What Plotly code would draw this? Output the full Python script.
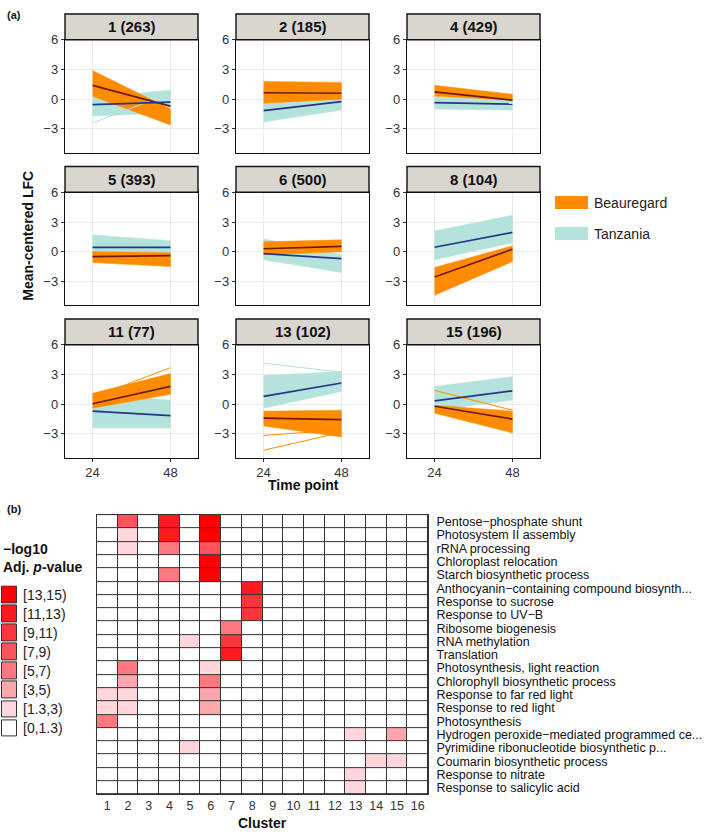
import pandas as pd
import plotly.graph_objects as go

W, H = 709, 835
FONT = "Liberation Sans, Arial, sans-serif"

# ---------------- (a) expression trajectories per cluster ----------------
clusters = ["1 (263)", "2 (185)", "4 (429)", "5 (393)", "6 (500)",
            "8 (104)", "11 (77)", "13 (102)", "15 (196)"]
time_points = [24, 48]
genotypes = ["Beauregard", "Tanzania"]

# spread of the gene bundle (low/high) and cluster mean, at 24 h and 48 h
beau_lo24 = [0.3, -0.4, 0.3, -1.1, -0.3, -4.4, -0.4, -2.2, -0.9]
beau_hi24 = [2.9, 1.8, 1.4, 0.0, 1.0, -1.6, 1.1, -0.7, -0.1]
beau_lo48 = [-2.6, 0.0, -0.1, -1.5, 0.0, -1.0, 1.0, -3.3, -2.9]
beau_hi48 = [-1.0, 1.7, 0.5, -0.1, 1.2, 0.6, 3.1, -0.6, -0.7]
beau_mean24 = [1.4, 0.65, 0.75, -0.5, 0.3, -2.55, 0.05, -1.4, -0.2]
beau_mean48 = [-0.7, 0.6, -0.1, -0.4, 0.55, 0.25, 1.8, -1.55, -1.5]

tanz_lo24 = [-1.7, -2.3, -1.0, -0.7, -0.8, -0.8, -2.4, -0.4, -0.6]
tanz_hi24 = [0.2, -0.4, 0.2, 1.7, 1.3, 2.1, 1.1, 2.9, 1.8]
tanz_lo48 = [-1.4, -1.1, -1.1, -0.6, -2.1, 0.9, -2.4, 1.3, 0.4]
tanz_hi48 = [0.9, 0.4, 0.0, 1.1, -0.3, 3.7, 0.4, 3.3, 2.8]
tanz_mean24 = [-0.55, -1.15, -0.35, 0.45, -0.2, 0.45, -0.7, 0.8, 0.35]
tanz_mean48 = [-0.3, -0.25, -0.5, 0.45, -0.7, 1.95, -1.15, 2.15, 1.35]

# single genes sticking out of the bundles
stray_cluster = [0, 6, 7, 7, 7, 8]
stray_group = ["Tanzania", "Beauregard", "Tanzania", "Beauregard", "Beauregard", "Beauregard"]
stray_24 = [-2.4, 0.7, 4.15, -3.15, -4.65, 1.4]
stray_48 = [0.6, 3.7, 3.25, -2.6, -2.85, -0.6]

# ---------------- (b) GO enrichment heatmap ----------------
terms = [
    "Pentose−phosphate shunt", "Photosystem II assembly", "rRNA processing",
    "Chloroplast relocation", "Starch biosynthetic process",
    "Anthocyanin−containing compound biosynth...", "Response to sucrose",
    "Response to UV−B", "Ribosome biogenesis", "RNA methylation", "Translation",
    "Photosynthesis, light reaction", "Chlorophyll biosynthetic process",
    "Response to far red light", "Response to red light", "Photosynthesis",
    "Hydrogen peroxide−mediated programmed ce...",
    "Pyrimidine ribonucleotide biosynthetic p...",
    "Coumarin biosynthetic process", "Response to nitrate",
    "Response to salicylic acid",
]
cluster_ids = list(range(1, 17))

# enriched (term index, cluster, -log10 adj. p); all other cells < 1.3
hit_term = [0, 0, 0, 1, 1, 1, 2, 2, 2, 3, 4, 4, 5, 6, 7, 8, 9, 9, 10, 11, 11,
            12, 12, 13, 13, 13, 14, 14, 14, 15, 16, 16, 17, 18, 18, 19, 20]
hit_cluster = [2, 4, 6, 2, 4, 6, 2, 4, 6, 6, 4, 6, 8, 8, 8, 7, 5, 7, 7, 2, 6,
               2, 6, 1, 2, 6, 1, 2, 6, 1, 13, 15, 5, 14, 15, 13, 13]
hit_value = [8, 12, 14, 2, 12, 14, 2, 6, 8, 14, 6, 14, 12, 10, 10, 6, 2, 10, 12, 6, 2,
             4, 6, 2, 2, 4, 2, 2, 4, 6, 2, 4, 2, 2, 2, 2, 2]

bin_edges = [0, 1.3, 3, 5, 7, 9, 11, 13, 15]
bin_labels = ["[0,1.3)", "[1.3,3)", "[3,5)", "[5,7)", "[7,9)", "[9,11)", "[11,13)", "[13,15)"]
bin_colors = ["#FFFFFF", "#FFD6DB", "#FFA6AD", "#FF7880", "#FF535C", "#FF353D", "#FF1A20", "#FF0000"]

ORANGE = "#FF8C00"
TEAL = "#B3E3DA"
MEAN_COL = {"Beauregard": "#6E1A0E", "Tanzania": "#28348A"}
FILL_COL = {"Beauregard": ORANGE, "Tanzania": TEAL}

bands = {
    "Beauregard": (beau_lo24, beau_hi24, beau_lo48, beau_hi48, beau_mean24, beau_mean48),
    "Tanzania": (tanz_lo24, tanz_hi24, tanz_lo48, tanz_hi48, tanz_mean24, tanz_mean48),
}


def xd(a, b):
    return [a / W, b / W]


def yd(top, bottom):
    return [1 - bottom / H, 1 - top / H]


fig = go.Figure()
lay = {}
shapes, annos = [], []

col_px = [(65, 198), (236, 369), (407, 540)]
row_px = [(33, 147), (187, 301), (341, 455)]
STRIP = 26

for i, name in enumerate(clusters):
    r, c = divmod(i, 3)
    n = i + 1
    xa, ya = f"x{n}", f"y{n}"
    # teal under orange
    for g in ["Tanzania", "Beauregard"]:
        lo24, hi24, lo48, hi48, _, _ = bands[g]
        fig.add_trace(go.Scatter(
            x=time_points + time_points[::-1],
            y=[hi24[i], hi48[i], lo48[i], lo24[i]],
            fill="toself", fillcolor=FILL_COL[g], mode="lines",
            line=dict(width=0.5, color=FILL_COL[g]),
            xaxis=xa, yaxis=ya, showlegend=False, hoverinfo="skip"))
    for k in range(len(stray_cluster)):
        if stray_cluster[k] == i:
            fig.add_trace(go.Scatter(
                x=time_points, y=[stray_24[k], stray_48[k]], mode="lines",
                line=dict(width=1, color=FILL_COL[stray_group[k]]),
                xaxis=xa, yaxis=ya, showlegend=False, hoverinfo="skip"))
    for g in genotypes:
        m24, m48 = bands[g][4], bands[g][5]
        fig.add_trace(go.Scatter(
            x=time_points, y=[m24[i], m48[i]], mode="lines",
            line=dict(width=1.7, color=MEAN_COL[g]),
            xaxis=xa, yaxis=ya, showlegend=False))

    x0, x1 = col_px[c]
    top, bot = row_px[r]
    lay[f"xaxis{n}"] = dict(
        domain=xd(x0, x1), anchor=ya, range=[15.5, 56.5], tickvals=time_points,
        showticklabels=(r == 2), ticks="outside" if r == 2 else "", ticklen=3,
        tickcolor="#333", tickfont=dict(size=13, color="#333"),
        showgrid=True, gridcolor="#EBEBEB", zeroline=False,
        showline=True, mirror=True, linecolor="#111", linewidth=1.4)
    lay[f"yaxis{n}"] = dict(
        domain=yd(top, bot), anchor=xa, range=[-5.4, 6.02], tickvals=[-3, 0, 3, 6],
        ticks="outside", ticklen=3, tickcolor="#333",
        tickfont=dict(size=13, color="#333"),
        showgrid=True, gridcolor="#EBEBEB", zeroline=False,
        showline=True, mirror=True, linecolor="#111", linewidth=1.4)
    shapes.append(dict(type="rect", xref="paper", yref="paper",
                       x0=x0 / W, x1=x1 / W, y0=1 - top / H, y1=1 - (top - STRIP) / H,
                       fillcolor="#D9D6D0", line=dict(color="#111", width=1.4)))
    annos.append(dict(text=f"<b>{name}</b>", x=(x0 + x1) / 2 / W,
                      y=1 - (top - STRIP / 2) / H, font=dict(size=15)))

# legend of (a): colour keys as a tiny horizontal bar chart
fig.add_trace(go.Bar(x=[1, 1], y=genotypes, orientation="h", width=0.42,
                     marker=dict(color=[FILL_COL[g] for g in genotypes], line=dict(width=0)),
                     xaxis="x10", yaxis="y10", showlegend=False, hoverinfo="skip"))
lay["xaxis10"] = dict(domain=xd(555, 588), anchor="y10", range=[0, 1], visible=False)
lay["yaxis10"] = dict(domain=yd(182, 245), anchor="x10", type="category",
                      categoryorder="array", categoryarray=genotypes[::-1], side="right",
                      showline=False, showgrid=False, ticks="", ticklabelstandoff=5,
                      tickfont=dict(size=14, color="#222"))

# heatmap of (b)
logp = pd.DataFrame(0.0, index=terms, columns=cluster_ids)
for t, cl, v in zip(hit_term, hit_cluster, hit_value):
    logp.iloc[t, cl - 1] = v
level = logp.apply(lambda col: pd.cut(col, bin_edges, right=False, labels=False))

nb = len(bin_colors)
scale = []
for k, colr in enumerate(bin_colors):
    scale += [[k / nb, colr], [(k + 1) / nb, colr]]

fig.add_trace(go.Heatmap(z=(level * 0).values, x=cluster_ids, y=terms,
                         colorscale=[[0, "#333"], [1, "#333"]], showscale=False,
                         hoverinfo="skip", xaxis="x11", yaxis="y11"))
fig.add_trace(go.Heatmap(z=level.values, x=cluster_ids, y=terms, colorscale=scale,
                         zmin=-0.5, zmax=nb - 0.5, xgap=1, ygap=1, showscale=False,
                         xaxis="x11", yaxis="y11"))
lay["xaxis11"] = dict(domain=xd(97, 428), anchor="y11", range=[0.5, 16.5],
                      tickvals=cluster_ids, ticks="", showgrid=False, zeroline=False,
                      tickfont=dict(size=12.5, color="#333"), ticklabelstandoff=0,
                      showline=True, mirror=True, linecolor="#333", linewidth=1)
lay["yaxis11"] = dict(domain=yd(513, 795), anchor="x11", type="category",
                      categoryorder="array", categoryarray=terms[::-1],
                      tickmode="array", tickvals=terms, side="right",
                      ticks="", showgrid=False, ticklabelstandoff=5,
                      tickfont=dict(size=12.5, color="#111"),
                      showline=True, mirror=True, linecolor="#333", linewidth=1)

# legend of (b)
fig.add_trace(go.Bar(x=[1] * nb, y=bin_labels, orientation="h", width=0.88,
                     marker=dict(color=bin_colors, line=dict(color="#333", width=1)),
                     xaxis="x12", yaxis="y12", showlegend=False, hoverinfo="skip"))
lay["xaxis12"] = dict(domain=xd(1, 18), anchor="y12", range=[-0.04, 1.04], visible=False)
lay["yaxis12"] = dict(domain=yd(584, 738), anchor="x12", type="category",
                      categoryorder="array", categoryarray=bin_labels,
                      tickmode="array", tickvals=bin_labels, side="right",
                      showline=False, showgrid=False, ticks="", ticklabelstandoff=4,
                      tickfont=dict(size=14, color="#222"))

annos += [
    dict(text="<b>(a)</b>", x=5 / W, y=1 - 8 / H, xanchor="left", font=dict(size=11)),
    dict(text="<b>(b)</b>", x=5 / W, y=1 - 507 / H, xanchor="left", font=dict(size=11)),
    dict(text="<b>Mean-centered LFC</b>", x=28 / W, y=1 - 231 / H, textangle=-90,
         font=dict(size=14)),
    dict(text="<b>Time point</b>", x=303 / W, y=1 - 483 / H, font=dict(size=14)),
    dict(text="<b>Cluster</b>", x=262 / W, y=1 - 834 / H, yanchor="bottom",
         font=dict(size=14)),
    dict(text="<b>−log10</b>", x=1 / W, y=1 - 547 / H, xanchor="left", font=dict(size=14)),
    dict(text="<b>Adj. <i>p</i>-value</b>", x=1 / W, y=1 - 565 / H, xanchor="left",
         font=dict(size=14)),
]
for a in annos:
    a.setdefault("xref", "paper")
    a.setdefault("yref", "paper")
    a.setdefault("xanchor", "center")
    a.setdefault("yanchor", "middle")
    a.setdefault("showarrow", False)
    a.setdefault("font", {})
    a["font"].setdefault("color", "#111")

fig.update_layout(
    width=W, height=H, margin=dict(l=0, r=0, t=0, b=0),
    paper_bgcolor="white", plot_bgcolor="white",
    font=dict(family=FONT, color="#111"),
    shapes=shapes, annotations=annos, bargap=0, **lay)

# the page's default 8px body margin would shift the figure
fig.write_html("out.html", config={"displayModeBar": False},
               post_script="document.body.style.margin='0';")
